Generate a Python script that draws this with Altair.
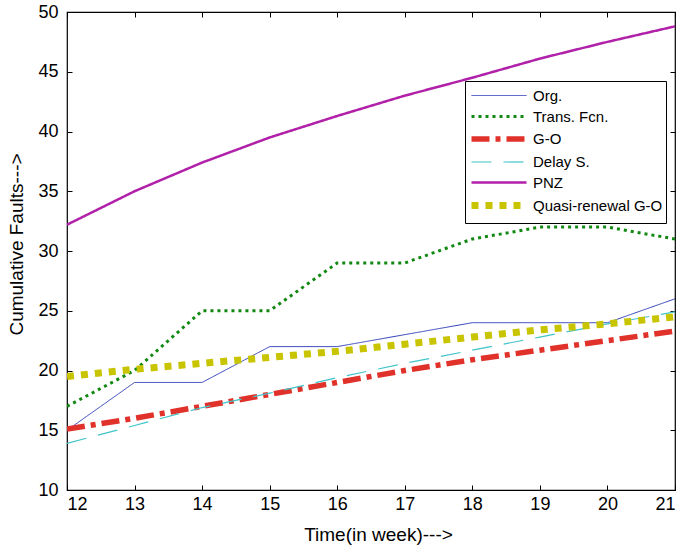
import altair as alt
import pandas as pd

weeks = [12, 13, 14, 15, 16, 17, 18, 19, 20, 21]
series_names = ["Org.", "Trans. Fcn.", "G-O", "Delay S.", "PNZ", "Quasi-renewal G-O"]
org = [15, 19, 19, 22, 22, 23, 24, 24, 24, 26]
trans_fcn = [17, 20, 25, 25, 29, 29, 31, 32, 32, 31]
g_o = [15.1, 16.0, 17.0, 18.0, 19.0, 20.0, 20.9, 21.7, 22.5, 23.3]
delay_s = [13.9, 15.4, 16.9, 18.1, 19.4, 20.6, 21.7, 22.8, 23.9, 24.9]
pnz = [32.2, 35.0, 37.4, 39.5, 41.3, 43.0, 44.5, 46.1, 47.5, 48.8]
quasi = [19.5, 20.1, 20.6, 21.1, 21.6, 22.2, 22.8, 23.4, 23.9, 24.5]

colors = ["#2f3fb8", "#118811", "#e0322a", "#40c4c8", "#b020a8", "#c8c400"]
dashes = [[1, 0], [3, 4], [18, 6, 5, 6], [20, 12], [1, 0], [7, 7]]
widths = [1.0, 3.0, 5.5, 1.2, 2.5, 7.0]

all_vals = [org, trans_fcn, g_o, delay_s, pnz, quasi]
rows = []
for name, vals in zip(series_names, all_vals):
    for w, v in zip(weeks, vals):
        rows.append({"week": w, "faults": v, "series": name})
df = pd.DataFrame(rows)

FONT = "Liberation Sans"

xscale = alt.Scale(domain=[12, 21], nice=False, zero=False)
yscale = alt.Scale(domain=[10, 50], nice=False, zero=False)

leg = alt.Legend(
    title=None, orient="none", legendX=398, legendY=69,
    symbolType="M-1,0H4", symbolSize=484, labelFont=FONT, labelFontSize=15,
    labelColor="black", fillColor="white", strokeColor="black",
    padding=3, rowPadding=0, labelLimit=300, labelOffset=36,
)

lines = alt.Chart(df).mark_line(clip=True).encode(
    x=alt.X("week:Q", scale=xscale,
            axis=alt.Axis(title="Time(in week)--->", values=weeks, orient="bottom",
                          offset=-5, tickSize=5, domain=False, labelPadding=5,
                          titlePadding=12, titleX=311)),
    y=alt.Y("faults:Q", scale=yscale,
            axis=alt.Axis(title="Cumulative Faults--->", values=list(range(10, 51, 5)),
                          orient="left", offset=-5, tickSize=5, domain=False,
                          labelPadding=9, titlePadding=11, titleY=232)),
    color=alt.Color("series:N", scale=alt.Scale(domain=series_names, range=colors),
                    sort=series_names, legend=leg),
    strokeDash=alt.StrokeDash("series:N", scale=alt.Scale(domain=series_names, range=dashes),
                              sort=series_names, legend=leg),
    strokeWidth=alt.StrokeWidth("series:N",
                                scale=alt.Scale(type="ordinal", domain=series_names, range=widths),
                                sort=series_names, legend=leg),
    order=alt.Order("week:Q"),
)

frame = alt.Chart(df).mark_point(opacity=0).encode(
    x=alt.X("week:Q", scale=xscale,
            axis=alt.Axis(title=None, values=weeks, orient="top", offset=-5, tickSize=5,
                          domain=False, labels=False)),
    y=alt.Y("faults:Q", scale=yscale,
            axis=alt.Axis(title=None, values=list(range(10, 51, 5)), orient="right",
                          offset=-5, tickSize=5, domain=False, labels=False)),
)

chart = alt.layer(lines, frame).resolve_axis(x="independent", y="independent").properties(
    width=608, height=478,
    autosize=alt.AutoSizeParams(type="none"),
    padding={"left": 67, "top": 12, "right": 7, "bottom": 62},
).configure_view(stroke="black", strokeWidth=1.2).configure_axis(
    labelFont=FONT, labelFontSize=18, labelColor="black",
    titleFont=FONT, titleFontSize=19, titleFontWeight="normal", titleColor="black",
    tickColor="black", tickWidth=1, grid=False,
)

chart.save("out.html", embed_options={"renderer": "svg", "actions": False})
